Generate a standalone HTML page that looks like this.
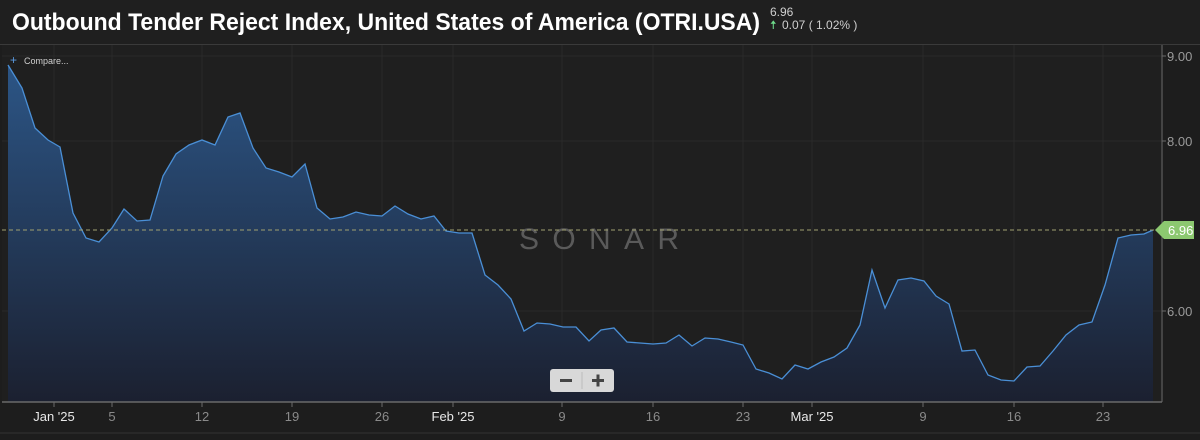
<!DOCTYPE html>
<html><head><meta charset="utf-8"><style>
html,body{margin:0;padding:0;background:#1d1d1d;width:1200px;height:440px;overflow:hidden}
</style></head><body>
<svg width="1200" height="440" xmlns="http://www.w3.org/2000/svg" font-family="Liberation Sans, sans-serif">
<defs>
<linearGradient id="g2" x1="0" y1="60" x2="0" y2="402" gradientUnits="userSpaceOnUse">
<stop offset="0" stop-color="#2c5687"/><stop offset="1" stop-color="#1b2030"/></linearGradient>
</defs>
<rect width="1200" height="440" fill="#1d1d1d"/>
<rect x="0" y="0" width="1200" height="44" fill="#1f1f1f"/>
<line x1="0" y1="44.5" x2="1200" y2="44.5" stroke="#3a3a3a"/>
<rect x="2" y="45" width="1160" height="357" fill="#1f1f1f"/>
<text x="12" y="30" font-size="24" font-weight="bold" fill="#ffffff" textLength="748" lengthAdjust="spacingAndGlyphs">Outbound Tender Reject Index, United States of America (OTRI.USA)</text>
<text x="770" y="16" font-size="12" fill="#cfcfcf">6.96</text>
<text x="770" y="29" font-size="12" fill="#6fdc8c">🠅</text>
<text x="782" y="29" font-size="12" fill="#cfcfcf">0.07 ( 1.02% )</text>
<g stroke="#2a2a2a" stroke-width="1">
<line x1="54" y1="45" x2="54" y2="402"/><line x1="112" y1="45" x2="112" y2="402"/><line x1="202" y1="45" x2="202" y2="402"/><line x1="292" y1="45" x2="292" y2="402"/><line x1="382" y1="45" x2="382" y2="402"/><line x1="453" y1="45" x2="453" y2="402"/><line x1="562" y1="45" x2="562" y2="402"/><line x1="653" y1="45" x2="653" y2="402"/><line x1="743" y1="45" x2="743" y2="402"/><line x1="812" y1="45" x2="812" y2="402"/><line x1="923" y1="45" x2="923" y2="402"/><line x1="1014" y1="45" x2="1014" y2="402"/><line x1="1103" y1="45" x2="1103" y2="402"/>
<line x1="2" y1="56" x2="1162" y2="56"/><line x1="2" y1="141" x2="1162" y2="141"/><line x1="2" y1="311" x2="1162" y2="311"/>
</g>
<text x="599" y="249" font-size="30" fill="#5a5a5a" text-anchor="middle" textLength="160" lengthAdjust="spacing">SONAR</text>
<path fill="url(#g2)" d="M8,65 L22,88 L35,128 L48,140 L60,147 L73,213 L86,238 L99,242 L112,228 L124,209 L137,221 L150,220 L163,176 L176,154 L189,145 L202,140 L215,145 L228,117 L240,113 L253,148 L266,168 L279,172 L292,177 L305,164 L317,208 L330,219 L343,217 L356,212 L369,215 L382,216 L395,206 L408,214 L421,219 L434,216 L446,231 L459,233 L472,233 L485,275 L498,285 L511,299 L524,331 L537,323 L550,324 L563,327 L576,327 L589,341 L601,330 L614,328 L627,342 L640,343 L653,344 L666,343 L679,335 L692,346 L705,338 L718,339 L731,342 L743,345 L756,369 L769,373 L782,379 L795,365 L808,369 L821,362 L834,357 L847,348 L860,325 L872,270 L885,308 L898,280 L911,278 L924,281 L936,296 L949,304 L962,351 L975,350 L988,375 L1001,380 L1014,381 L1027,367 L1040,366 L1053,351 L1066,335 L1079,325 L1092,322 L1105,285 L1118,238 L1131,235 L1144,234 L1153,230 L1153,402 L8,402 Z"/>
<path fill="none" stroke="#4a8fd6" stroke-width="1.3" d="M8,65 L22,88 L35,128 L48,140 L60,147 L73,213 L86,238 L99,242 L112,228 L124,209 L137,221 L150,220 L163,176 L176,154 L189,145 L202,140 L215,145 L228,117 L240,113 L253,148 L266,168 L279,172 L292,177 L305,164 L317,208 L330,219 L343,217 L356,212 L369,215 L382,216 L395,206 L408,214 L421,219 L434,216 L446,231 L459,233 L472,233 L485,275 L498,285 L511,299 L524,331 L537,323 L550,324 L563,327 L576,327 L589,341 L601,330 L614,328 L627,342 L640,343 L653,344 L666,343 L679,335 L692,346 L705,338 L718,339 L731,342 L743,345 L756,369 L769,373 L782,379 L795,365 L808,369 L821,362 L834,357 L847,348 L860,325 L872,270 L885,308 L898,280 L911,278 L924,281 L936,296 L949,304 L962,351 L975,350 L988,375 L1001,380 L1014,381 L1027,367 L1040,366 L1053,351 L1066,335 L1079,325 L1092,322 L1105,285 L1118,238 L1131,235 L1144,234 L1153,230"/>
<line x1="2" y1="230" x2="1155" y2="230" stroke="#a0a070" stroke-dasharray="4,3" stroke-width="1"/>
<line x1="1162" y1="45" x2="1162" y2="402" stroke="#6a6a6a"/>
<line x1="2" y1="402" x2="1162" y2="402" stroke="#6a6a6a" stroke-width="1.5"/>
<g stroke="#6a6a6a"><line x1="1162" y1="56" x2="1166" y2="56"/><line x1="1162" y1="141" x2="1166" y2="141"/><line x1="1162" y1="311" x2="1166" y2="311"/></g>
<g font-size="13" fill="#9a9a9a"><text x="1167" y="61">9.00</text><text x="1167" y="146">8.00</text><text x="1167" y="316">6.00</text></g>
<path d="M1155,230 L1164,221 L1194,221 L1194,239 L1164,239 Z" fill="#8cc870"/>
<text x="1168" y="235" font-size="13" fill="#ffffff">6.96</text>
<g stroke="#6a6a6a"><line x1="54" y1="402" x2="54" y2="407"/><line x1="112" y1="402" x2="112" y2="407"/><line x1="202" y1="402" x2="202" y2="407"/><line x1="292" y1="402" x2="292" y2="407"/><line x1="382" y1="402" x2="382" y2="407"/><line x1="453" y1="402" x2="453" y2="407"/><line x1="562" y1="402" x2="562" y2="407"/><line x1="653" y1="402" x2="653" y2="407"/><line x1="743" y1="402" x2="743" y2="407"/><line x1="812" y1="402" x2="812" y2="407"/><line x1="923" y1="402" x2="923" y2="407"/><line x1="1014" y1="402" x2="1014" y2="407"/><line x1="1103" y1="402" x2="1103" y2="407"/></g>
<g font-size="13" text-anchor="middle">
<text x="54" y="421" fill="#e8e8e8">Jan '25</text><text x="112" y="421" fill="#8a8a8a">5</text><text x="202" y="421" fill="#8a8a8a">12</text><text x="292" y="421" fill="#8a8a8a">19</text><text x="382" y="421" fill="#8a8a8a">26</text><text x="453" y="421" fill="#e8e8e8">Feb '25</text><text x="562" y="421" fill="#8a8a8a">9</text><text x="653" y="421" fill="#8a8a8a">16</text><text x="743" y="421" fill="#8a8a8a">23</text><text x="812" y="421" fill="#e8e8e8">Mar '25</text><text x="923" y="421" fill="#8a8a8a">9</text><text x="1014" y="421" fill="#8a8a8a">16</text><text x="1103" y="421" fill="#8a8a8a">23</text>
</g>
<line x1="0" y1="433" x2="1200" y2="433" stroke="#333"/>
<rect x="550" y="369" width="64" height="23" rx="3" fill="#d8d8d8"/>
<line x1="582" y1="372" x2="582" y2="389" stroke="#bbb"/>
<rect x="560" y="379" width="12" height="3" fill="#444"/>
<rect x="592" y="379" width="12" height="3" fill="#444"/><rect x="596.5" y="374.5" width="3" height="12" fill="#444"/>
<text x="10" y="64" font-size="12" fill="#5b9be0">+</text>
<text x="24" y="64" font-size="9" fill="#cfcfcf">Compare...</text>
</svg>
</body></html>
